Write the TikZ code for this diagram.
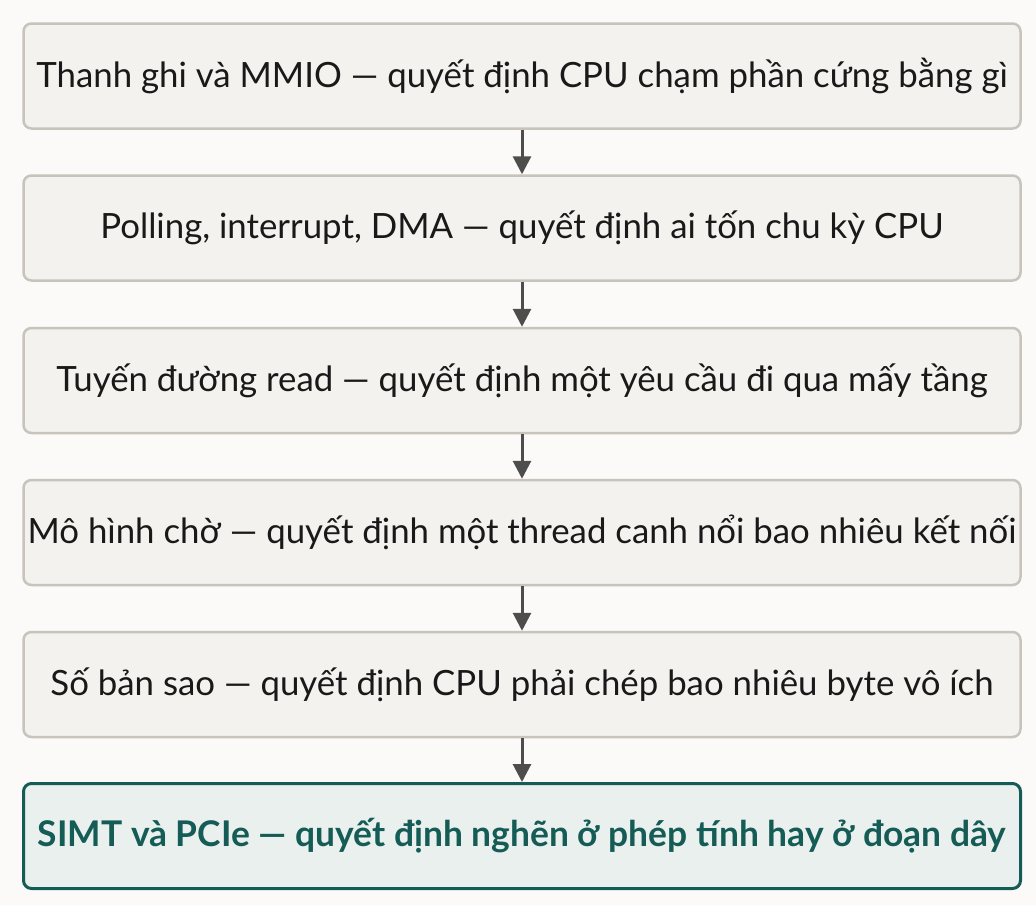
\documentclass[tikz,border=0pt]{standalone}
\usepackage{fontspec}
\setmainfont{Lato}
\usetikzlibrary{arrows.meta}

\definecolor{bgpaper}{HTML}{FBFAF8}
\definecolor{boxfill}{HTML}{F3F2EF}
\definecolor{boxline}{HTML}{C8C4BC}
\definecolor{tealline}{HTML}{165C56}
\definecolor{tealfill}{HTML}{EAF0EE}
\definecolor{arrowgray}{HTML}{4D4D4D}

\tikzset{
  stepbox/.style={draw=boxline, fill=boxfill, line width=2.5pt, rounded corners=8pt,
    minimum width=997pt, minimum height=105pt, inner sep=0pt,
    font=\fontsize{34.8}{40}\selectfont, text=black!90},
  lastbox/.style={stepbox, draw=tealline, fill=tealfill, line width=3pt,
    font=\fontsize{35.4}{40}\selectfont\bfseries, text=tealline},
  flow/.style={draw=arrowgray, line width=3pt, -{Triangle[length=18pt,width=18pt]}}
}

\begin{document}
\begin{tikzpicture}[x=1pt, y=1pt]
    % Background and page size
    \fill[bgpaper] (0,0) rectangle (1036,-905);
    \useasboundingbox (0,0) rectangle (1036,-905);

    % Steps
    \node[stepbox] (regs) at (522,-76) {Thanh ghi và MMIO — quyết định CPU chạm phần cứng bằng gì};
    \node[stepbox] (poll) at (522,-228) {Polling, interrupt, DMA — quyết định ai tốn chu kỳ CPU};
    \node[stepbox] (read) at (522,-380.5) {Tuyến đường read — quyết định một yêu cầu đi qua mấy tầng};
    \node[stepbox] (wait) at (522,-532.5) {Mô hình chờ — quyết định một thread canh nổi bao nhiêu kết nối};
    \node[stepbox] (copy) at (522,-684.5) {Số bản sao — quyết định CPU phải chép bao nhiêu byte vô ích};

    % Final step, highlighted
    \node[lastbox] (simt) at (522,-836) {SIMT và PCIe — quyết định nghẽn ở phép tính hay ở đoạn dây};

    % Arrows
    \draw[flow] (regs) -- (poll);
    \draw[flow] (poll) -- (read);
    \draw[flow] (read) -- (wait);
    \draw[flow] (wait) -- (copy);
    \draw[flow] (copy) -- (simt);
\end{tikzpicture}
\end{document}
